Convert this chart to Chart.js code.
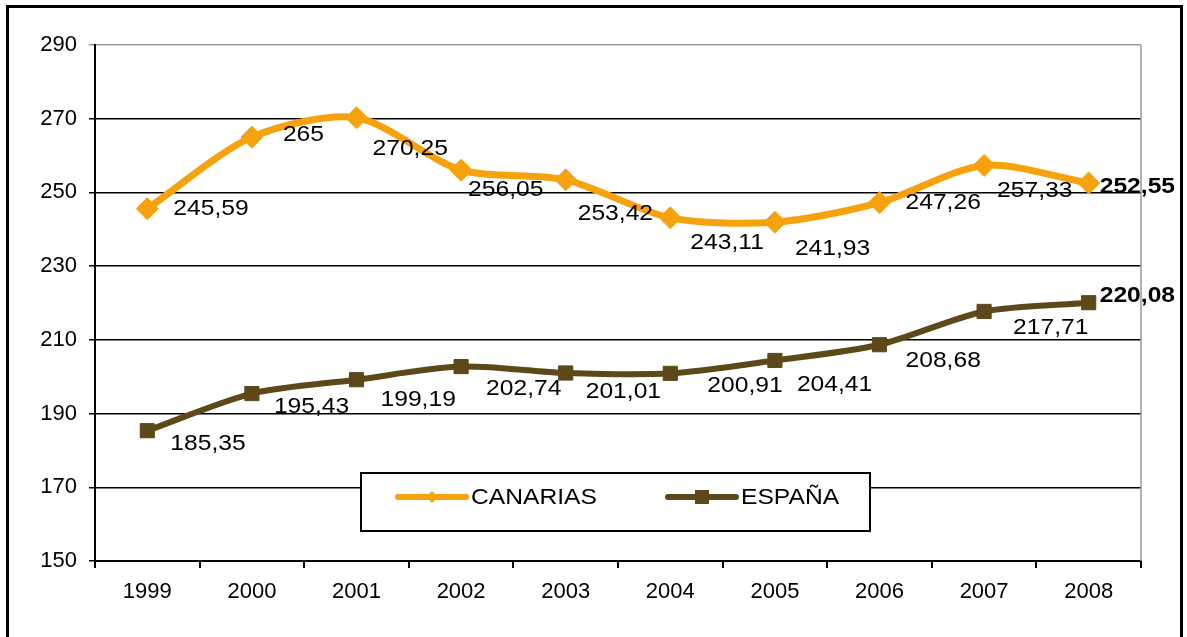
<!DOCTYPE html>
<html>
<head>
<meta charset="utf-8">
<script src="https://cdn.jsdelivr.net/npm/chart.js@4"></script>
<style>
    html, body { margin: 0; padding: 0; background: #fff; overflow: hidden; }
    #wrap { position: relative; width: 1187px; height: 637px; }
    #frame {
        position: absolute; left: 6px; top: 5px; width: 1177px; height: 700px;
        border: 3px solid #000; box-sizing: border-box; pointer-events: none;
    }
</style>
</head>
<body>
<div id="wrap">
    <canvas id="chart"></canvas>
    <div id="frame"></div>
</div>
<script>
// 数据
const years = ['1999', '2000', '2001', '2002', '2003', '2004', '2005', '2006', '2007', '2008'];
const canarias = [245.59, 265, 270.25, 256.05, 253.42, 243.11, 241.93, 247.26, 257.33, 252.55];
const espana = [185.35, 195.43, 199.19, 202.74, 201.01, 200.91, 204.41, 208.68, 217.71, 220.08];
const yTicks = [150, 170, 190, 210, 230, 250, 270, 290];

const FONT = '"Liberation Sans", Arial, sans-serif';
const ORANGE = '#F6A20E';
const BROWN = '#5C4818';
const STRETCH = 1.12; // 原图文字略横向拉伸

// 标签偏移（相对数据点，左对齐文字）
const labelOffsets = {
    0: [[26, 0], [31, -2], [16, 31], [7, 20], [12, 34], [20, 25], [20, 27], [26, 0], [13, 26], [11, 4]],
    1: [[23, 13], [22, 13], [24, 20], [25, 22], [20, 19], [37, 13], [22, 24], [26, 16], [29, 16], [11, -7]]
};

const fmt = v => String(v).replace('.', ',');

function stretchedText(ctx, text, x, y) {
    ctx.save();
    ctx.translate(x, y);
    ctx.scale(STRETCH, 1);
    ctx.fillText(text, 0, 0);
    ctx.restore();
}

// 数据标签
const valueLabels = {
    id: 'valueLabels',
    afterDatasetsDraw(chart) {
        const ctx = chart.ctx;
        ctx.save();
        ctx.fillStyle = '#000';
        ctx.textAlign = 'left';
        ctx.textBaseline = 'middle';
        chart.data.datasets.forEach((ds, di) => {
            chart.getDatasetMeta(di).data.forEach((pt, i) => {
                const last = i === ds.data.length - 1;
                ctx.font = (last ? 'bold ' : '') + '22px ' + FONT;
                const [dx, dy] = labelOffsets[di][i];
                stretchedText(ctx, fmt(ds.data[i]), pt.x + dx, pt.y + dy);
            });
        });
        ctx.restore();
    }
};

// 右侧灰线 + 图例框
const extras = {
    id: 'extras',
    afterDatasetsDraw(chart) {
        const { ctx, chartArea: ca } = chart;
        ctx.save();
        ctx.strokeStyle = '#999';
        ctx.lineWidth = 1.5;
        ctx.beginPath();
        ctx.moveTo(ca.right, ca.top);
        ctx.lineTo(ca.right, ca.bottom);
        ctx.stroke();

        // 图例
        const x0 = ca.left + 266, y0 = 473, w = 509, h = 58;
        ctx.fillStyle = '#fff';
        ctx.fillRect(x0, y0, w, h);
        ctx.strokeStyle = '#000';
        ctx.lineWidth = 2;
        ctx.strokeRect(x0, y0, w, h);

        const cy = y0 + 24;
        ctx.lineCap = 'round';
        const items = [
            { ds: chart.data.datasets[0], lx: x0 + 37, tx: x0 + 110 },
            { ds: chart.data.datasets[1], lx: x0 + 307, tx: x0 + 380 }
        ];
        items.forEach((it, k) => {
            ctx.strokeStyle = it.ds.borderColor;
            ctx.lineWidth = 6;
            ctx.beginPath();
            ctx.moveTo(it.lx, cy);
            ctx.lineTo(it.lx + 68, cy);
            ctx.stroke();
            ctx.fillStyle = it.ds.borderColor;
            const mx = it.lx + 34;
            if (k === 0) {
                ctx.beginPath();
                ctx.moveTo(mx, cy - 6); ctx.lineTo(mx + 6, cy);
                ctx.lineTo(mx, cy + 6); ctx.lineTo(mx - 6, cy);
                ctx.closePath(); ctx.fill();
            } else {
                ctx.fillRect(mx - 7, cy - 7, 14, 14);
            }
            ctx.fillStyle = '#000';
            ctx.font = '22px ' + FONT;
            ctx.textAlign = 'left';
            ctx.textBaseline = 'middle';
            stretchedText(ctx, it.ds.label, it.tx, cy + 1);
        });
        ctx.restore();
    }
};

new Chart(document.getElementById('chart'), {
    type: 'line',
    data: {
        labels: years,
        datasets: [{
            label: 'CANARIAS',
            data: canarias,
            borderColor: ORANGE,
            backgroundColor: ORANGE,
            borderWidth: 7,
            pointStyle: 'rectRot',
            pointRadius: 11,
            pointBorderWidth: 1,
            pointBackgroundColor: ORANGE,
            pointBorderColor: ORANGE,
            tension: 0.28
        }, {
            label: 'ESPAÑA',
            data: espana,
            borderColor: BROWN,
            backgroundColor: BROWN,
            borderWidth: 6,
            pointStyle: 'rect',
            pointRadius: 10,
            pointBorderWidth: 1,
            pointBackgroundColor: BROWN,
            pointBorderColor: BROWN,
            tension: 0.28
        }]
    },
    options: {
        responsive: true,
        maintainAspectRatio: false,
        animation: false,
        layout: { padding: { top: 45, right: 46, left: 0, bottom: 0 } },
        scales: {
            x: {
                offset: true,
                afterFit: s => { s.height = 76; },
                grid: { offset: true, drawOnChartArea: false, drawTicks: true, tickLength: 7, color: '#000', lineWidth: 2 },
                border: { display: true, color: '#000', width: 2 },
                ticks: { color: '#000', padding: 11, font: { family: FONT, size: 22 } }
            },
            y: {
                min: 150,
                max: 290,
                afterFit: s => { s.width = 95; },
                afterBuildTicks: s => { s.ticks = yTicks.map(v => ({ value: v })); },
                grid: {
                    color: c => (c.tick && c.tick.value === 290 ? '#999' : '#000'),
                    lineWidth: 1.5,
                    drawTicks: true,
                    tickLength: 6
                },
                border: { display: true, color: '#000', width: 2 },
                ticks: { color: '#000', padding: 12, font: { family: FONT, size: 22 } }
            }
        },
        plugins: {
            legend: { display: false },
            tooltip: { enabled: false }
        }
    },
    plugins: [valueLabels, extras]
});
</script>
</body>
</html>
